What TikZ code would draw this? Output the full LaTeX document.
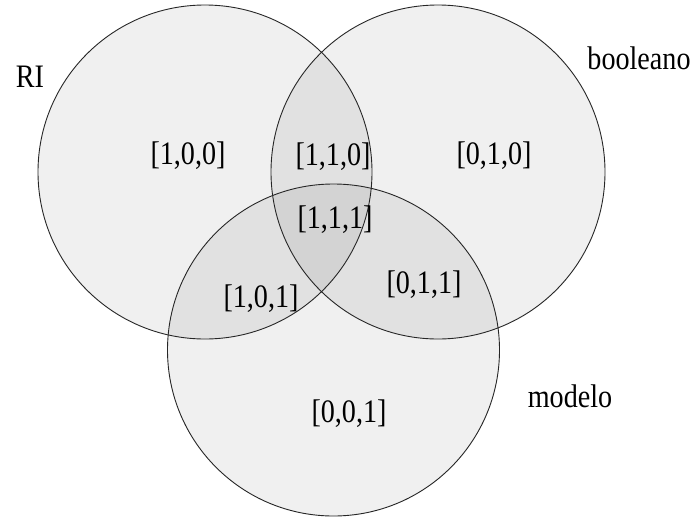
\documentclass[tikz,border=0pt]{standalone}
\usepackage{fontspec}
\setmainfont{Liberation Serif}
\newcommand\talltext[1]{\scalebox{0.97}[1.13]{#1}}
\begin{document}
\begin{tikzpicture}[x=1pt,y=-1pt,
  setfill/.style={circle,inner sep=0pt,fill=black,fill opacity=0.06,draw=none},
  setline/.style={circle,inner sep=0pt,draw=black!85,line width=0.9pt},
  lbl/.style={inner sep=0pt,font=\fontsize{29}{34}\selectfont}]
\useasboundingbox (0,0) rectangle (697,517);
\fill[white] (0,0) rectangle (697,517);
% fills
\node[setfill,minimum size=334pt] (rif) at (205,172) {};
\node[setfill,minimum size=334pt] (boolf) at (438,172) {};
\node[setfill,minimum size=332pt] (modf) at (333.5,350) {};
% outlines
\node[setline,minimum size=334pt] (ri) at (205,172) {};
\node[setline,minimum size=334pt] (bool) at (438,172) {};
\node[setline,minimum size=332pt] (mod) at (333.5,350) {};
% labels
\node[lbl] (tri) at (30,77) {\talltext{RI}};
\node[lbl] (tbool) at (639,58) {\talltext{booleano}};
\node[lbl] (tmod) at (570,396) {\talltext{modelo}};
\node[lbl] (r100) at (188,156) {\talltext{[1,0,0]}};
\node[lbl] (r110) at (333,157) {\talltext{[1,1,0]}};
\node[lbl] (r010) at (494,156) {\talltext{[0,1,0]}};
\node[lbl] (r111) at (335,220) {\talltext{[1,1,1]}};
\node[lbl] (r101) at (261,299) {\talltext{[1,0,1]}};
\node[lbl] (r011) at (424,285) {\talltext{[0,1,1]}};
\node[lbl] (r001) at (349,414) {\talltext{[0,0,1]}};
\end{tikzpicture}
\end{document}
